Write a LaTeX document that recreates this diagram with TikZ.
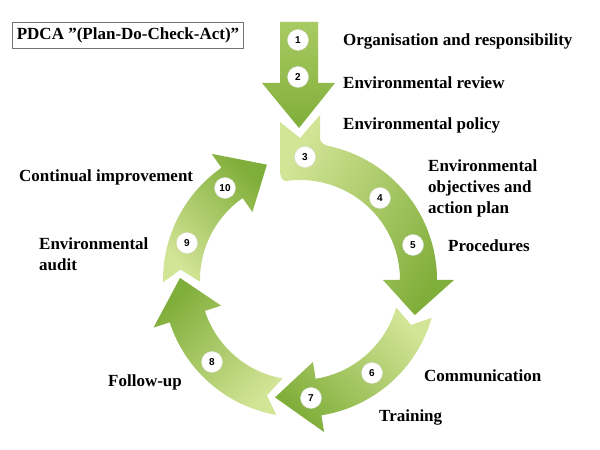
\documentclass[tikz,border=0pt]{standalone}
\usepackage{fontspec}
\setmainfont{Liberation Serif}
\newfontfamily\numfont{Liberation Sans}
\usepackage{tikz}
\usetikzlibrary{positioning,calc}
\definecolor{leafLight}{RGB}{210,228,150}
\definecolor{leafMid}{RGB}{168,202,98}
\definecolor{leafDark}{RGB}{128,174,58}
\tikzset{
  numdot/.style={circle, fill=white, draw=black!12, inner sep=0pt, minimum size=21pt,
    font=\numfont\bfseries\fontsize{10}{10}\selectfont},
  steplabel/.style={anchor=west, inner sep=0pt, align=left,
    font=\bfseries\fontsize{17}{21}\selectfont},
}

\begin{document}
\begin{tikzpicture}[x=1pt,y=1pt]
    \useasboundingbox (0,0) rectangle (600,450);

    % Title box
    \node[draw=black!55, line width=0.8pt, minimum width=231pt, minimum height=26pt,
      inner sep=0pt, font=\bfseries\fontsize{17}{20}\selectfont] (title) at (128,415)
      {PDCA ”(Plan-Do-Check-Act)”};

    % Straight arrow (1-2)
    \shade[top color=leafMid, bottom color=leafDark]
      (280,428) -- (318,428) -- (318,367) -- (335,367) -- (299,322) -- (262,367) -- (280,367) -- cycle;

    \begin{scope}[shift={(300,170)}]
    % Arrow 3-5
    \shade[top color=leafDark, bottom color=leafLight, shading angle=-120]
      (-20,158) -- (0,142) -- (20,165) -- (20,142) to[out=-90,in=168] (78:137)
      arc[start angle=78, end angle=0, radius=137] -- (0:154) -- (-17:120) -- (0:83) -- (0:100)
      arc[start angle=0, end angle=98, radius=100] to[out=188,in=-90] (-20,110) -- cycle;
    % Arrow 6-7
    \shade[top color=leafDark, bottom color=leafLight, shading angle=135]
      (-16:137) arc[start angle=-16, end angle=-81, radius=137] -- (-81:154) -- (-102:120)
      -- (-81:83) -- (-81:100) arc[start angle=-81, end angle=-16, radius=100] -- (-22:120) -- cycle;
    % Arrow 8
    \shade[top color=leafDark, bottom color=leafLight, shading angle=45]
      (260:137) arc[start angle=260, end angle=198, radius=137] -- (198:154) -- (179:120)
      -- (198:83) -- (198:100) arc[start angle=198, end angle=260, radius=100] -- (254:120) -- cycle;
    % Arrow 9-10
    \shade[top color=leafDark, bottom color=leafLight, shading angle=-45]
      (181:137) arc[start angle=181, end angle=125, radius=137] -- (125:154) -- (106:120)
      -- (125:83) -- (125:100) arc[start angle=125, end angle=181, radius=100] -- (175:120) -- cycle;
    \end{scope}

    % Step numbers
    \foreach \n/\x/\y in {1/298/410, 2/298/373, 3/305/293, 4/380/252, 5/413/205,
                          6/372/77, 7/311/52, 8/212/88, 9/187/207, 10/225/262}
        \node[numdot] (n\n) at (\x,\y) {\n};

    % Step labels
    \node[steplabel] (organisation) at (343,409) {Organisation and responsibility};
    \node[steplabel] (review) at (343,367) {Environmental review};
    \node[steplabel] (policy) at (343,325) {Environmental policy};
    \node[steplabel] (objectives) at (428,262) {Environmental\\objectives and\\action plan};
    \node[steplabel] (procedures) at (448,204) {Procedures};
    \node[steplabel] (communication) at (424,74) {Communication};
    \node[steplabel] (training) at (379,33) {Training};
    \node[steplabel] (followup) at (108,68) {Follow-up};
    \node[steplabel] (audit) at (39,195.5) {Environmental\\audit};
    \node[steplabel] (improvement) at (19,273) {Continual improvement};
\end{tikzpicture}
\end{document}
